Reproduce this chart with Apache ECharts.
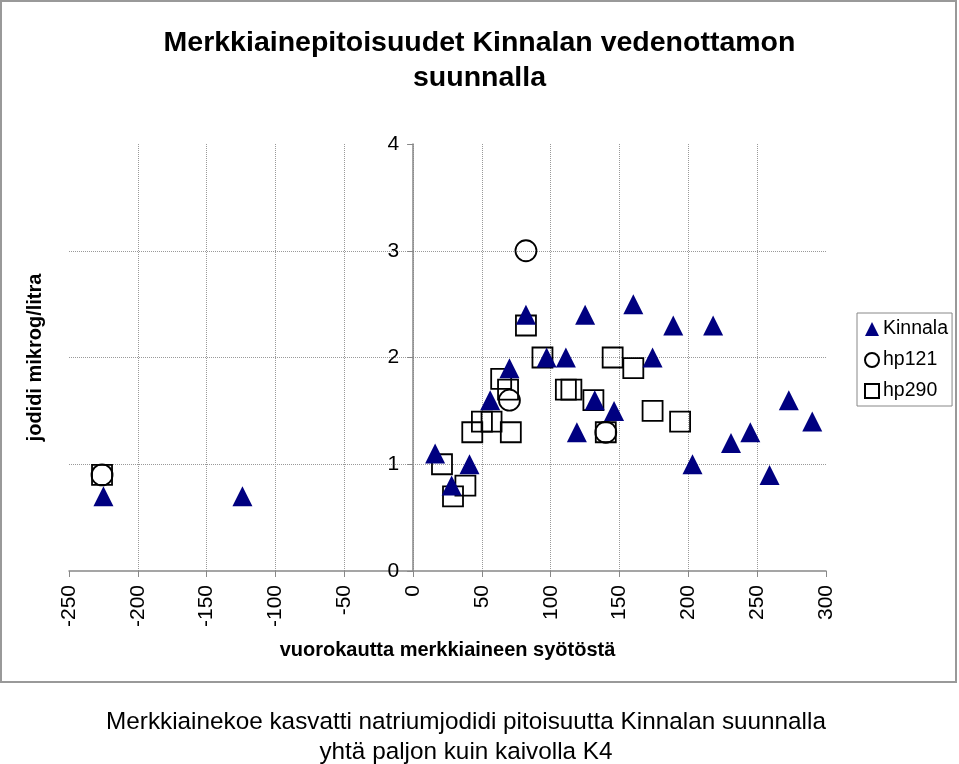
<!DOCTYPE html>
<html>
<head>
<meta charset="utf-8">
<script src="https://cdn.jsdelivr.net/npm/echarts@6/dist/echarts.min.js"></script>
<style>
html,body{margin:0;padding:0;background:#fff;}
#chart{width:959px;height:764px;}
</style>
</head>
<body>
<div id="chart"></div>
<script>
// Data (x: vuorokautta merkkiaineen syötöstä, y: jodidi mikrog/litra)
const kinnala = [
  [-225,0.7],[-124,0.7],[16,1.1],[28,0.8],[41,1.0],[56,1.6],[70,1.9],[82,2.4],
  [97,2.0],[111,2.0],[119,1.3],[125,2.4],[132,1.6],[146,1.5],[160,2.5],[174,2.0],
  [189,2.3],[203,1.0],[218,2.3],[231,1.2],[245,1.3],[259,0.9],[273,1.6],[290,1.4]
];
const hp121 = [[-226,0.9],[70,1.6],[82,3.0],[140,1.3]];
const hp290 = [
  [-226,0.9],[21,1.0],[29,0.7],[38,0.8],[43,1.3],[50,1.4],[57,1.4],[64,1.8],
  [69,1.7],[71,1.3],[82,2.3],[94,2.0],[111,1.7],[115,1.7],[131,1.6],[140,1.3],
  [145,2.0],[160,1.9],[174,1.5],[194,1.4]
];
const seriesNames = ['Kinnala','hp121','hp290'];
const xRange = {min:-250, max:300, interval:50};
const yRange = {min:0, max:4, interval:1};
const titleText = 'Merkkiainepitoisuudet Kinnalan vedenottamon\nsuunnalla';
const captionText = 'Merkkiainekoe kasvatti natriumjodidi pitoisuutta Kinnalan suunnalla\nyhtä paljon kuin kaivolla K4';
const xName = 'vuorokautta merkkiaineen syötöstä';
const yName = 'jodidi mikrog/litra';

const W = 959, H = 764;
const G = {left:69, right:133, top:144, bottom:193};
const gridW = W - G.left - G.right;
// y axis sits at x = 0
const yOffset = -gridW * (0 - xRange.min) / (xRange.max - xRange.min);

const FF = 'Liberation Sans, Arial, sans-serif';
const chart = echarts.init(document.getElementById('chart'), null, {renderer:'canvas'});
const hollow = {color:'rgba(255,255,255,0)', borderColor:'#000', borderWidth:1.8, opacity:1};
chart.setOption({
  animation:false,
  backgroundColor:'#fff',
  textStyle:{fontFamily:FF},
  title:[
    {text:titleText, left:'center', top:21,
     textStyle:{fontFamily:FF, fontSize:28.5, fontWeight:'bold', color:'#000', lineHeight:35}},
    {text:captionText, left:461, textAlign:'center', top:702,
     textStyle:{fontFamily:FF, fontSize:24.3, fontWeight:'normal', color:'#000', lineHeight:30}}
  ],
  graphic:[{type:'rect', silent:true, z:-1,
    shape:{x:1, y:1, width:955, height:681},
    style:{fill:'none', stroke:'#999', lineWidth:2}}],
  legend:{
    data:seriesNames, orient:'vertical', left:857, top:313,
    itemWidth:14, itemHeight:14, itemGap:11,
    padding:[6,4,5,7],
    borderColor:'#888', borderWidth:1, backgroundColor:'#fff',
    textStyle:{fontFamily:FF, fontSize:19.5, color:'#000', padding:[0,0,0,-1]}
  },
  grid:{left:G.left, right:G.right, top:G.top, bottom:G.bottom, outerBoundsMode:'none', containLabel:false},
  xAxis:{
    type:'value', min:xRange.min, max:xRange.max, interval:xRange.interval,
    name:xName, nameLocation:'middle', nameGap:69,
    nameTextStyle:{fontFamily:FF, fontSize:20, fontWeight:'bold', color:'#000'},
    axisLine:{onZero:false, lineStyle:{color:'#888', width:1.5}},
    axisTick:{show:true, length:6, lineStyle:{color:'#888'}},
    axisLabel:{rotate:90, margin:14, fontSize:21, color:'#000', fontFamily:FF},
    splitLine:{show:true, showMinLine:false, showMaxLine:false,
      lineStyle:{color:'#999', type:'dotted', width:1}}
  },
  yAxis:{
    type:'value', min:yRange.min, max:yRange.max, interval:yRange.interval,
    offset:yOffset,
    name:yName, nameLocation:'middle', nameGap:368,
    nameTextStyle:{fontFamily:FF, fontSize:20, fontWeight:'bold', color:'#000'},
    axisLine:{show:true, onZero:false, lineStyle:{color:'#888', width:1.5}},
    axisTick:{show:true, length:6, lineStyle:{color:'#888'}},
    axisLabel:{margin:14, fontSize:21, color:'#000', fontFamily:FF},
    splitLine:{show:true, showMinLine:false, showMaxLine:false,
      lineStyle:{color:'#999', type:'dotted', width:1}}
  },
  series:[
    {name:'hp290', type:'scatter', data:hp290, symbol:'rect', symbolSize:20,
     itemStyle:hollow, emphasis:{disabled:true}},
    {name:'hp121', type:'scatter', data:hp121, symbol:'circle', symbolSize:21,
     itemStyle:hollow, emphasis:{disabled:true}},
    {name:'Kinnala', type:'scatter', data:kinnala, symbol:'triangle', symbolSize:20,
     itemStyle:{color:'#000080', opacity:1}, emphasis:{disabled:true}}
  ]
});
</script>
</body>
</html>
